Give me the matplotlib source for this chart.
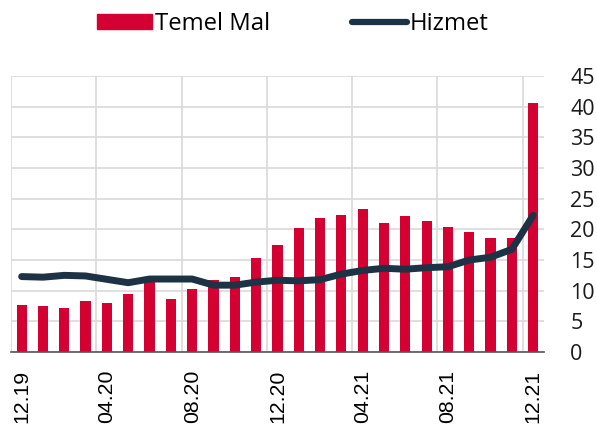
import numpy as np
import matplotlib
matplotlib.use("Agg")
import matplotlib.pyplot as plt
from matplotlib.patches import Patch
from matplotlib.lines import Line2D

months = ["12.19", "01.20", "02.20", "03.20", "04.20", "05.20", "06.20", "07.20",
          "08.20", "09.20", "10.20", "11.20", "12.20", "01.21", "02.21", "03.21",
          "04.21", "05.21", "06.21", "07.21", "08.21", "09.21", "10.21", "11.21",
          "12.21"]
temel_mal = [7.6, 7.5, 7.2, 8.3, 8.0, 9.4, 11.7, 8.7, 10.2, 11.8, 12.2, 15.4, 17.4,
             20.3, 21.8, 22.3, 23.3, 21.0, 22.1, 21.3, 20.4, 19.5, 18.6, 18.6, 40.6]
hizmet = [12.3, 12.2, 12.5, 12.4, 11.85, 11.3, 11.9, 11.9, 11.9, 10.9, 10.9, 11.4,
          11.7, 11.6, 11.8, 12.7, 13.3, 13.65, 13.5, 13.75, 13.9, 15.0, 15.45, 16.75,
          22.3]

red = "#D50032"
navy = "#1E3246"

fig = plt.figure(figsize=(5.97, 4.38), dpi=100)
ax = fig.add_axes([0.0184, 0.1963, 0.8926, 0.6302])

x = np.arange(len(months))
ax.bar(x, temel_mal, width=0.48, color=red, zorder=2)
ax.plot(x, hizmet, color=navy, lw=5, solid_capstyle="round", zorder=3)

ax.set_xlim(-0.5, len(months) - 0.5)
ax.set_ylim(0, 45)
ax.set_yticks(np.arange(0, 46, 5))
ax.yaxis.tick_right()
ax.tick_params(axis="y", length=0, pad=19, labelsize=15.5)
for lab in ax.get_yticklabels():
    lab.set_fontfamily("Open Sans")
    lab.set_color("#1a1a1a")

ax.set_xticks(x[::4])
ax.set_xticklabels(months[::4], rotation=90, fontsize=15.3, family="Liberation Sans")
ax.tick_params(axis="x", length=0, pad=13)

ax.set_xticks(np.arange(-0.5, len(months), 4), minor=True)
ax.grid(True, axis="y", color="#D9D9D9", lw=1.2, zorder=0)
ax.grid(True, axis="x", which="minor", color="#D9D9D9", lw=1.2, zorder=0)
ax.grid(False, axis="x", which="major")
for s in ["top", "right", "left"]:
    ax.spines[s].set_visible(False)
ax.spines["bottom"].set_color("#555555")
ax.spines["bottom"].set_linewidth(1.2)
ax.tick_params(axis="x", which="minor", length=0)

handles = [Patch(color=red), Line2D([], [], color=navy, lw=4.5, solid_capstyle="round")]
fig.legend(handles, ["Temel Mal", "Hizmet"], loc="upper left",
           bbox_to_anchor=(0.126, 1.022), ncol=2, frameon=False,
           prop={"family": "Open Sans", "size": 17.2},
           handlelength=2.3, handleheight=0.55, handletextpad=0.15,
           columnspacing=3.4)

fig.savefig("out.png", dpi=100)
